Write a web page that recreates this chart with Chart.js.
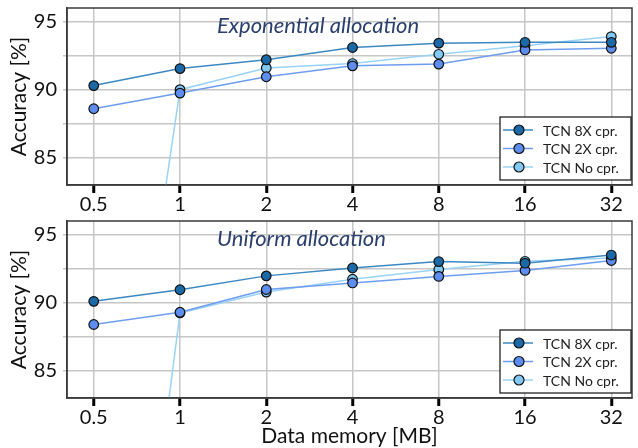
<!DOCTYPE html>
<html><head><meta charset="utf-8">
<script src="https://cdn.jsdelivr.net/npm/chart.js@4/dist/chart.umd.min.js"></script>
<style>
html,body{margin:0;padding:0;background:#fff;width:638px;height:448px;overflow:hidden}
.wrap{position:absolute;left:0;width:638px}
canvas{display:block}
</style></head><body>
<div class="wrap" style="top:0;height:215px"><canvas id="c1" width="638" height="215"></canvas></div>
<div class="wrap" style="top:215px;height:233px"><canvas id="c2" width="638" height="233"></canvas></div>
<script>
// ---- data ----
const xLabels = ['0.5', '1', '2', '4', '8', '16', '32'];
const yTicks = [85, 87.5, 90, 92.5, 95];
const seriesNames = ['TCN 8X cpr.', 'TCN 2X cpr.', 'TCN No cpr.'];
const panelTitles = ['Exponential allocation', 'Uniform allocation'];

const exp8X = [90.3, 91.55, 92.2, 93.1, 93.42, 93.48, 93.48];
const exp2X = [88.6, 89.75, 90.95, 91.75, 91.88, 92.92, 93.04];
const expNo = [47.0, 90.0, 91.6, 91.92, 92.6, 93.22, 93.9];

const uni8X = [90.1, 90.95, 91.97, 92.55, 93.02, 92.9, 93.5];
const uni2X = [88.4, 89.3, 90.97, 91.45, 91.93, 92.37, 93.1];
const uniNo = [40.0, 89.25, 90.78, 91.72, 92.44, 93.04, 93.28];

const lineColors = ['#3c88c2', '#6e9df0', '#9ad3f7'];
const markerColors = ['#1b69a6', '#5c8def', '#82caf5'];

const FONT = 'Lato, "Open Sans", sans-serif';

const framePlugin = {
  id: 'frame',
  afterDatasetsDraw(chart, args, opts) {
    const ctx = chart.ctx, a = chart.chartArea;
    ctx.save();
    ctx.strokeStyle = '#3a3a3a';
    ctx.lineWidth = 1.5;
    ctx.strokeRect(a.left, a.top, a.right - a.left, a.bottom - a.top);
    ctx.font = 'italic 22px ' + FONT;
    ctx.fillStyle = '#2b3f6e';
    ctx.textBaseline = 'alphabetic';
    ctx.textAlign = 'left';
    ctx.fillText(opts.title, 217, a.top + 25);
    const w = 131, h = 63;
    const lx = a.right - 1 - w, ly = a.bottom - 5 - h;
    ctx.fillStyle = '#fff';
    ctx.fillRect(lx, ly, w, h);
    ctx.strokeStyle = '#111';
    ctx.lineWidth = 1.2;
    ctx.strokeRect(lx, ly, w, h);
    chart.data.datasets.forEach((ds, i) => {
      const y = ly + 13 + i * 18.5;
      ctx.strokeStyle = ds.borderColor;
      ctx.lineWidth = 1.5;
      ctx.beginPath(); ctx.moveTo(lx + 3, y); ctx.lineTo(lx + 33, y); ctx.stroke();
      ctx.beginPath(); ctx.arc(lx + 19, y, 5, 0, Math.PI * 2);
      ctx.fillStyle = ds.pointBackgroundColor; ctx.fill();
      ctx.strokeStyle = '#111'; ctx.lineWidth = 1.2; ctx.stroke();
      ctx.fillStyle = '#222';
      ctx.font = '14px ' + FONT;
      ctx.textBaseline = 'middle';
      ctx.fillText(ds.label, lx + 43, y + 1);
    });
    ctx.restore();
  }
};

function makeChart(id, title, series, padTop, xHeight, showXTitle) {
  const datasets = series.map((vals, i) => ({
    label: seriesNames[i],
    data: vals.map((v, j) => ({x: j, y: v})),
    borderColor: lineColors[i],
    backgroundColor: markerColors[i],
    pointBackgroundColor: markerColors[i],
    pointBorderColor: '#111',
    pointBorderWidth: 1.2,
    pointRadius: 4.8,
    borderWidth: 1.5,
    tension: 0
  }));
  return new Chart(document.getElementById(id), {
    type: 'line',
    data: {datasets},
    plugins: [framePlugin],
    options: {
      responsive: false,
      animation: false,
      events: [],
      layout: {padding: {left: 0, right: 3, top: padTop, bottom: 0}},
      plugins: {legend: {display: false}, tooltip: {enabled: false}, frame: {title}},
      scales: {
        x: {
          type: 'linear', min: -0.31, max: 6.24,
          afterBuildTicks: s => { s.ticks = xLabels.map((_, i) => ({value: i})); },
          afterFit: s => { s.height = xHeight; s.paddingLeft = 0; s.paddingRight = 0; },
          grid: {color: '#c6c6c6', lineWidth: 1.5, tickColor: '#000', tickWidth: 3, tickLength: 8},
          border: {color: '#3a3a3a', width: 1.5},
          ticks: {padding: 0, color: '#111', font: {family: FONT, size: 20}, maxRotation: 0,
                  callback: (v, i) => xLabels[i]},
          title: {display: showXTitle, text: 'Data memory [MB]', color: '#111',
                  font: {family: FONT, size: 21, lineHeight: 1.1}, padding: {top: 0, bottom: 0}}
        },
        y: {
          min: 83, max: 96,
          afterBuildTicks: s => { s.ticks = yTicks.map(v => ({value: v})); },
          afterFit: s => { s.width = 67; s.paddingTop = 0; s.paddingBottom = 0; },
          grid: {color: '#c6c6c6', lineWidth: 1.5, tickLength: 4},
          border: {color: '#3a3a3a', width: 1.5},
          ticks: {padding: 6, color: '#111', font: {family: FONT, size: 20},
                  callback: v => (v % 5 === 0 ? String(v) : '')},
          title: {display: true, text: 'Accuracy [%]', color: '#111',
                  font: {family: FONT, size: 21}, padding: {top: 7, bottom: 0}}
        }
      }
    }
  });
}

makeChart('c1', panelTitles[0], [exp8X, exp2X, expNo], 8, 30, false);
makeChart('c2', panelTitles[1], [uni8X, uni2X, uniNo], 5, 50, true);
</script>
</body></html>
